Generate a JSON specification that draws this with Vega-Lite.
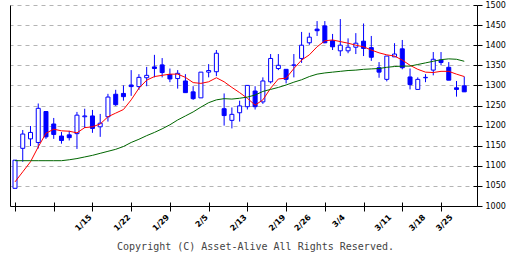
{
  "$schema": "https://vega.github.io/schema/vega-lite/v6.json",
  "width": 467,
  "height": 201,
  "autosize": {"type": "none"},
  "padding": {"left": 10, "top": 5, "right": 35, "bottom": 50},
  "background": "white",
  "config": {
    "view": {"stroke": null},
    "axis": {"labelFont": "DejaVu Sans", "labelColor": "black", "titleFont": "DejaVu Sans Mono"}
  },
  "data": {
    "values": [
      {"idx": 0, "open": 1044, "high": 1114, "low": 1044, "close": 1114, "ma_short": 1060, "ma_long": 1112.7},
      {"idx": 1, "open": 1143.5, "high": 1189, "low": 1110, "close": 1179, "ma_short": 1085, "ma_long": 1112.7},
      {"idx": 2, "open": 1167, "high": 1199, "low": 1149, "close": 1183, "ma_short": 1110, "ma_long": 1112.7},
      {"idx": 3, "open": 1158, "high": 1255, "low": 1143, "close": 1243, "ma_short": 1147, "ma_long": 1112.7},
      {"idx": 4, "open": 1235, "high": 1236, "low": 1167, "close": 1172, "ma_short": 1181, "ma_long": 1112.7},
      {"idx": 5, "open": 1204, "high": 1219, "low": 1167, "close": 1178, "ma_short": 1191, "ma_long": 1112.7},
      {"idx": 6, "open": 1174, "high": 1184, "low": 1155, "close": 1163, "ma_short": 1187, "ma_long": 1112.7},
      {"idx": 7, "open": 1177, "high": 1187, "low": 1163, "close": 1170, "ma_short": 1186, "ma_long": 1115},
      {"idx": 8, "open": 1180, "high": 1234, "low": 1142, "close": 1226, "ma_short": 1182, "ma_long": 1118},
      {"idx": 9, "open": 1222, "high": 1242, "low": 1194, "close": 1224, "ma_short": 1195, "ma_long": 1122},
      {"idx": 10, "open": 1224, "high": 1239, "low": 1182, "close": 1193, "ma_short": 1197, "ma_long": 1126},
      {"idx": 11, "open": 1197, "high": 1229, "low": 1172, "close": 1206, "ma_short": 1204, "ma_long": 1131},
      {"idx": 12, "open": 1222, "high": 1279, "low": 1210, "close": 1271, "ma_short": 1222, "ma_long": 1136},
      {"idx": 13, "open": 1278, "high": 1289, "low": 1249, "close": 1252, "ma_short": 1231, "ma_long": 1141},
      {"idx": 14, "open": 1280, "high": 1300, "low": 1262, "close": 1272, "ma_short": 1240, "ma_long": 1148},
      {"idx": 15, "open": 1301, "high": 1338, "low": 1274, "close": 1297, "ma_short": 1264, "ma_long": 1158},
      {"idx": 16, "open": 1297, "high": 1328, "low": 1289, "close": 1320, "ma_short": 1293, "ma_long": 1166},
      {"idx": 17, "open": 1319, "high": 1346, "low": 1298, "close": 1325, "ma_short": 1313, "ma_long": 1175},
      {"idx": 18, "open": 1346, "high": 1376, "low": 1320, "close": 1342, "ma_short": 1322, "ma_long": 1183},
      {"idx": 19, "open": 1351, "high": 1368, "low": 1320, "close": 1332, "ma_short": 1325, "ma_long": 1192},
      {"idx": 20, "open": 1327, "high": 1342, "low": 1308, "close": 1316, "ma_short": 1328, "ma_long": 1202},
      {"idx": 21, "open": 1317, "high": 1338, "low": 1292, "close": 1330, "ma_short": 1328, "ma_long": 1214},
      {"idx": 22, "open": 1311, "high": 1328, "low": 1282, "close": 1282, "ma_short": 1320, "ma_long": 1224},
      {"idx": 23, "open": 1284, "high": 1298, "low": 1264, "close": 1267, "ma_short": 1307, "ma_long": 1234},
      {"idx": 24, "open": 1269, "high": 1333, "low": 1269, "close": 1333, "ma_short": 1305, "ma_long": 1246},
      {"idx": 25, "open": 1333, "high": 1353, "low": 1320, "close": 1337, "ma_short": 1309, "ma_long": 1257},
      {"idx": 26, "open": 1334, "high": 1388, "low": 1323, "close": 1380, "ma_short": 1319, "ma_long": 1264},
      {"idx": 27, "open": 1242, "high": 1280, "low": 1200, "close": 1225, "ma_short": 1309, "ma_long": 1267},
      {"idx": 28, "open": 1213, "high": 1245, "low": 1193, "close": 1228, "ma_short": 1295, "ma_long": 1266},
      {"idx": 29, "open": 1232, "high": 1262, "low": 1210, "close": 1249, "ma_short": 1282, "ma_long": 1268},
      {"idx": 30, "open": 1247, "high": 1300, "low": 1240, "close": 1300, "ma_short": 1268, "ma_long": 1271},
      {"idx": 31, "open": 1286, "high": 1298, "low": 1240, "close": 1247, "ma_short": 1251, "ma_long": 1276},
      {"idx": 32, "open": 1259, "high": 1320, "low": 1254, "close": 1311, "ma_short": 1264, "ma_long": 1285},
      {"idx": 33, "open": 1309, "high": 1378, "low": 1305, "close": 1367, "ma_short": 1293, "ma_long": 1290},
      {"idx": 34, "open": 1342, "high": 1378, "low": 1338, "close": 1350, "ma_short": 1316, "ma_long": 1295},
      {"idx": 35, "open": 1340, "high": 1340, "low": 1305, "close": 1315, "ma_short": 1318, "ma_long": 1301},
      {"idx": 36, "open": 1350, "high": 1378, "low": 1320, "close": 1351, "ma_short": 1342, "ma_long": 1308},
      {"idx": 37, "open": 1367, "high": 1433, "low": 1356, "close": 1400, "ma_short": 1363, "ma_long": 1314},
      {"idx": 38, "open": 1406, "high": 1431, "low": 1401, "close": 1420, "ma_short": 1376, "ma_long": 1322},
      {"idx": 39, "open": 1440, "high": 1460, "low": 1423, "close": 1436, "ma_short": 1396, "ma_long": 1328},
      {"idx": 40, "open": 1448, "high": 1460, "low": 1405, "close": 1406, "ma_short": 1411, "ma_long": 1331},
      {"idx": 41, "open": 1411, "high": 1428, "low": 1388, "close": 1396, "ma_short": 1413, "ma_long": 1333},
      {"idx": 42, "open": 1386, "high": 1465, "low": 1373, "close": 1400, "ma_short": 1409, "ma_long": 1335},
      {"idx": 43, "open": 1386, "high": 1417, "low": 1380, "close": 1395, "ma_short": 1405, "ma_long": 1337},
      {"idx": 44, "open": 1395, "high": 1430, "low": 1378, "close": 1405, "ma_short": 1400, "ma_long": 1338},
      {"idx": 45, "open": 1410, "high": 1454, "low": 1373, "close": 1392, "ma_short": 1396, "ma_long": 1340},
      {"idx": 46, "open": 1394, "high": 1423, "low": 1361, "close": 1370, "ma_short": 1388, "ma_long": 1341},
      {"idx": 47, "open": 1344, "high": 1358, "low": 1319, "close": 1333, "ma_short": 1381, "ma_long": 1342},
      {"idx": 48, "open": 1315, "high": 1373, "low": 1310, "close": 1373, "ma_short": 1376, "ma_long": 1345},
      {"idx": 49, "open": 1371, "high": 1405, "low": 1371, "close": 1378, "ma_short": 1373, "ma_long": 1347},
      {"idx": 50, "open": 1391, "high": 1413, "low": 1340, "close": 1344, "ma_short": 1363, "ma_long": 1348},
      {"idx": 51, "open": 1321, "high": 1342, "low": 1290, "close": 1302, "ma_short": 1350, "ma_long": 1348},
      {"idx": 52, "open": 1290, "high": 1320, "low": 1290, "close": 1315, "ma_short": 1340, "ma_long": 1352},
      {"idx": 53, "open": 1319, "high": 1328, "low": 1308, "close": 1320, "ma_short": 1333, "ma_long": 1356},
      {"idx": 54, "open": 1338, "high": 1383, "low": 1325, "close": 1365, "ma_short": 1332, "ma_long": 1360},
      {"idx": 55, "open": 1363, "high": 1383, "low": 1350, "close": 1357, "ma_short": 1335, "ma_long": 1364},
      {"idx": 56, "open": 1345, "high": 1358, "low": 1313, "close": 1313, "ma_short": 1335, "ma_long": 1366},
      {"idx": 57, "open": 1294, "high": 1311, "low": 1272, "close": 1290, "ma_short": 1328, "ma_long": 1365},
      {"idx": 58, "open": 1299, "high": 1322, "low": 1284, "close": 1284, "ma_short": 1322, "ma_long": 1360}
    ]
  },
  "layer": [
    {
      "mark": {"type": "rule", "color": "#0000ff", "strokeWidth": 1},
      "encoding": {
        "x": {
          "field": "idx", "type": "quantitative",
          "scale": {"domain": [0, 59], "nice": false, "zero": false},
          "axis": {"orient": "bottom", "values": [0, 5, 10, 15, 20, 25, 30, 35, 40, 45, 50, 55], "tickSize": 5, "tickColor": "black", "domainColor": "black", "labels": false, "title": null, "grid": false}
        },
        "y": {
          "field": "low", "type": "quantitative",
          "scale": {"domain": [1000, 1500], "nice": false, "zero": false},
          "axis": {"orient": "right", "values": [1000, 1050, 1100, 1150, 1200, 1250, 1300, 1350, 1400, 1450, 1500], "format": "d", "tickSize": 5, "tickColor": "black", "domainColor": "black", "grid": true, "gridColor": "#b4b4b4", "gridDash": [4, 4], "labelFontSize": 8, "labelPadding": 3, "title": null}
        },
        "y2": {"field": "high"}
      }
    },
    {
      "mark": {"type": "bar", "orient": "vertical", "size": 4, "stroke": "#0000ff", "strokeWidth": 1},
      "encoding": {
        "x": {
          "field": "idx", "type": "quantitative",
          "axis": {"orient": "bottom", "values": [0, 5, 10, 15, 20, 25, 30, 35, 40, 45, 50, 55], "tickSize": -4, "tickColor": "black", "domain": false, "labels": false, "title": null, "grid": false}
        },
        "y": {
          "field": "open", "type": "quantitative",
          "axis": {"orient": "right", "values": [1000, 1050, 1100, 1150, 1200, 1250, 1300, 1350, 1400, 1450, 1500], "tickSize": -4, "tickColor": "black", "domain": false, "labels": false, "title": null, "grid": false}
        },
        "y2": {"field": "close"},
        "fill": {"condition": {"test": "datum.close >= datum.open", "value": "white"}, "value": "#0000ff"}
      }
    },
    {
      "mark": {"type": "line", "color": "#ff0000", "strokeWidth": 1},
      "encoding": {
        "x": {
          "field": "idx", "type": "quantitative",
          "axis": {
            "orient": "bottom",
            "values": [10, 15, 20, 25, 30, 35, 38.3, 42.7, 48.7, 53.1, 56.6],
            "labelExpr": "['1/15','1/22','1/29','2/5','2/13','2/19','2/26','3/4','3/11','3/18','3/25'][indexof([10,15,20,25,30,35,38.3,42.7,48.7,53.1,56.6], datum.value)]",
            "ticks": false, "tickSize": 0, "domain": false, "grid": false,
            "labelAngle": -45, "labelAlign": "right", "labelBaseline": "top", "labelOffset": -5,
            "labelFontSize": 8, "labelFontWeight": "bold", "labelPadding": 7, "labelOverlap": false, "labelBound": false, "labelFlush": false,
            "title": "Copyright (C) Asset-Alive All Rights Reserved.",
            "titleFontSize": 10, "titleFontWeight": "normal", "titleColor": "#444444",
            "titleX": 245, "titleY": 40, "titleAlign": "center", "titleBaseline": "middle"
          }
        },
        "y": {
          "field": "ma_short", "type": "quantitative",
          "axis": {"orient": "left", "domain": true, "domainColor": "black", "ticks": false, "labels": false, "grid": false, "title": null}
        }
      }
    },
    {
      "mark": {"type": "line", "color": "#006600", "strokeWidth": 1},
      "encoding": {
        "x": {"field": "idx", "type": "quantitative", "axis": null},
        "y": {"field": "ma_long", "type": "quantitative", "axis": null}
      }
    }
  ],
  "resolve": {"axis": {"x": "independent", "y": "independent"}}
}
